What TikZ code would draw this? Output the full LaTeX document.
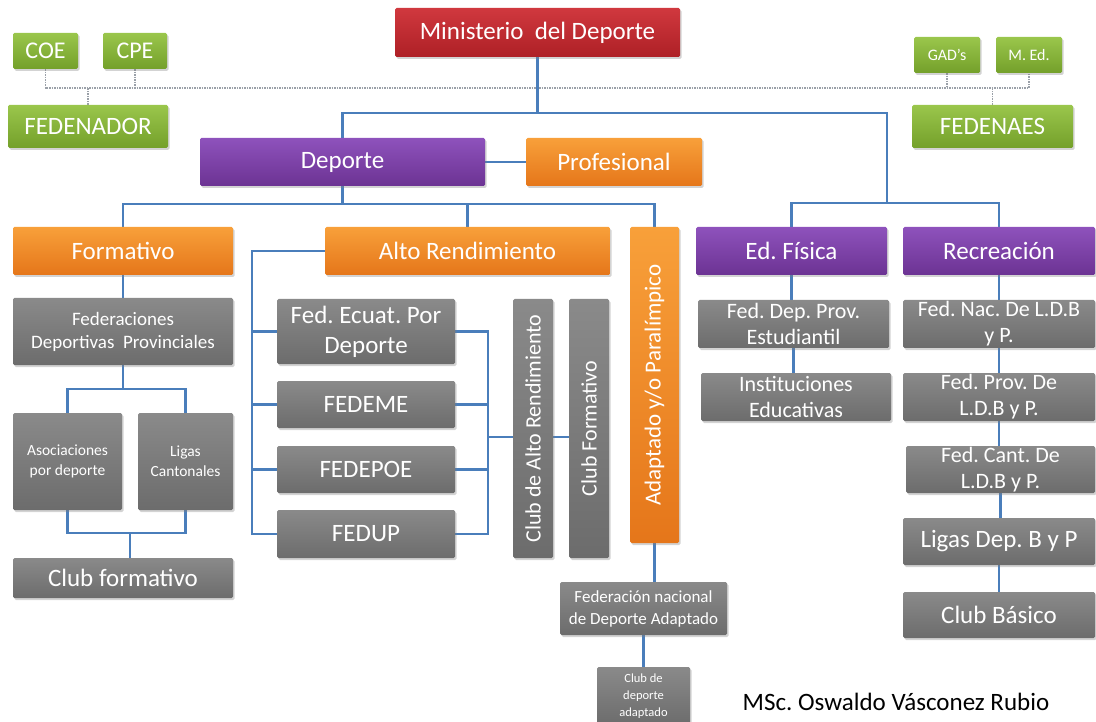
\documentclass[tikz,border=0pt]{standalone}
\usepackage{fontspec}
\setmainfont{Carlito}
\usetikzlibrary{shadows,backgrounds}
\definecolor{linkblue}{HTML}{4A7EBB}
\definecolor{dotgray}{HTML}{9AA0A8}
\definecolor{redtop}{HTML}{D0383E}
\definecolor{redbot}{HTML}{AE2026}
\definecolor{greentop}{HTML}{9AC64C}
\definecolor{greenbot}{HTML}{74A02A}
\definecolor{purpletop}{HTML}{8E52BC}
\definecolor{purplebot}{HTML}{6C3393}
\definecolor{orangetop}{HTML}{F8A03A}
\definecolor{orangebot}{HTML}{E5761A}
\definecolor{graytop}{HTML}{8A8A8A}
\definecolor{graybot}{HTML}{6C6C6C}
\frenchspacing

\begin{document}
\begin{tikzpicture}[x=1pt,y=-1pt,
    box/.style={rounded corners=1.5pt,inner sep=0pt,align=center,text=white,
                drop shadow={opacity=.35,shadow xshift=1.5pt,shadow yshift=-2pt}},
    redbox/.style={box,top color=redtop,bottom color=redbot},
    greenbox/.style={box,top color=greentop,bottom color=greenbot},
    purplebox/.style={box,top color=purpletop,bottom color=purplebot},
    orangebox/.style={box,top color=orangetop,bottom color=orangebot},
    graybox/.style={box,top color=graytop,bottom color=graybot},
    sz/.style 2 args={minimum width=#1,minimum height=#2},
    f25/.style={font=\fontsize{25}{30}\selectfont},
    f24/.style={font=\fontsize{24}{28}\selectfont},
    f23/.style={font=\fontsize{23}{27}\selectfont},
    f22/.style={font=\fontsize{22}{26}\selectfont},
    f19/.style={font=\fontsize{19}{23}\selectfont},
    f17/.style={font=\fontsize{17}{22}\selectfont},
    f16/.style={font=\fontsize{16}{19}\selectfont},
    f15/.style={font=\fontsize{15.5}{20}\selectfont},
    f12/.style={font=\fontsize{12.5}{17}\selectfont},
    link/.style={draw=linkblue,line width=2.5pt},
    dotlink/.style={draw=dotgray,line width=1.3pt,dash pattern=on 1.5pt off 1pt}]
  \useasboundingbox (0,0) rectangle (1096,722);

  % cabecera
  \node[redbox,sz={285}{49},f25] (min) at (537.5,32.5) {Ministerio\ \ del Deporte};
  \node[greenbox,sz={65}{36},f24] (coe) at (45.5,51) {COE};
  \node[greenbox,sz={64}{36},f24] (cpe) at (135,51) {CPE};
  \node[greenbox,sz={160}{43},f25] (fedenador) at (88,126.5) {FEDENADOR};
  \node[greenbox,sz={66}{36},f16] (gads) at (947,55) {GAD’s};
  \node[greenbox,sz={66}{36},f16] (med) at (1029,55) {M. Ed.};
  \node[greenbox,sz={161}{43},f25] (fedenaes) at (992.5,126.5) {FEDENAES};

  \node[purplebox,sz={285}{48},f25] (deporte) at (342.5,162) {Deporte};
  \node[orangebox,sz={176}{48},f25] (prof) at (614,162) {Profesional};

  \node[orangebox,sz={220}{48},f25] (format) at (123,251) {Formativo};
  \node[orangebox,sz={285}{48},f25] (alto) at (467.5,251) {Alto Rendimiento};
  \node[orangebox,sz={316}{49},f23,rotate=90] (adapt) at (654.5,385) {Adaptado y/o Paralímpico};
  \node[purplebox,sz={191}{48},f25] (edfis) at (791.5,251) {Ed. Física};
  \node[purplebox,sz={192}{48},f25] (recre) at (999,251) {Recreación};

  % formativo
  \node[graybox,sz={220}{67},f19] (fdp) at (123,331.5) {Federaciones\\Deportivas\ \ Provinciales};
  \node[graybox,sz={109}{97},f15] (asoc) at (67.5,461.5) {Asociaciones\\por deporte};
  \node[graybox,sz={95}{97},f15] (ligas) at (185.5,461.5) {Ligas\\Cantonales};
  \node[graybox,sz={220}{40},f25] (clubf) at (123,578) {Club formativo};

  % alto rendimiento
  \node[graybox,sz={178}{65},f25] (fecu) at (366,331.5) {Fed. Ecuat. Por\\Deporte};
  \node[graybox,sz={178}{47},f25] (fedeme) at (366,404.5) {FEDEME};
  \node[graybox,sz={178}{47},f25] (fedepoe) at (366,469.5) {FEDEPOE};
  \node[graybox,sz={178}{48},f25] (fedup) at (366,534) {FEDUP};
  \node[graybox,sz={259}{40},f22,rotate=90] (car) at (533,428.5) {Club de Alto Rendimiento};
  \node[graybox,sz={259}{40},f22,rotate=90] (cfo) at (589,428.5) {Club Formativo};
  \node[graybox,sz={167}{53},f17] (fnac) at (643.5,608.5) {Federación nacional\\de Deporte Adaptado};
  \node[graybox,sz={93}{58},f12] (cda) at (643.5,696) {Club de\\deporte\\adaptado};

  % ed. fisica y recreacion
  \node[graybox,sz={191}{48},f22] (fdpe) at (793.5,324) {Fed. Dep. Prov.\\Estudiantil};
  \node[graybox,sz={190}{48},f22] (inst) at (796,397) {Instituciones\\Educativas};
  \node[graybox,sz={192}{48},f22] (fnld) at (999,324) {Fed. Nac. De L.D.B\\y P.};
  \node[graybox,sz={192}{48},f22] (fprov) at (999,397) {Fed. Prov. De\\L.D.B y P.};
  \node[graybox,sz={189}{47},f22] (fcant) at (1000.5,469.5) {Fed. Cant. De\\L.D.B y P.};
  \node[graybox,sz={192}{47},f25] (ligasd) at (999,541.5) {Ligas Dep. B y P};
  \node[graybox,sz={192}{46},f25] (clubb) at (999,615) {Club Básico};

  \node[f25,inner sep=0pt] (firma) at (896,702) {MSc. Oswaldo Vásconez Rubio};

  \begin{scope}[on background layer]
    \coordinate (dl) at (45.5,88);
    \coordinate (dr) at (1029,88);
    \draw[dotlink] (coe.south) -- (dl) -- (dr) -- (med.south);
    \draw[dotlink] (cpe.south) -- (cpe.south |- dl);
    \draw[dotlink] (gads.south) -- (gads.south |- dl);
    \draw[dotlink] (fedenador.north) -- (fedenador.north |- dl);
    \draw[dotlink] (fedenaes.north) -- (fedenaes.north |- dl);

    \coordinate (topbus) at (537.5,113);
    \coordinate (rbus) at (887,203);
    \coordinate (dbus) at (342.5,204);
    \draw[link] (min.south) -- (topbus);
    \draw[link] (deporte.north) |- (topbus) -| (rbus);
    \draw[link] (edfis.north) |- (rbus) -| (recre.north);
    \draw[link] (deporte.east) -- (prof.west);
    \draw[link] (deporte.south) -- (dbus);
    \draw[link] (format.north) |- (dbus) -| (adapt.east);
    \draw[link] (alto.north) -- (alto.north |- dbus);

    \coordinate (fbus) at (123,389);
    \coordinate (cbus) at (130,533);
    \draw[link] (format.south) -- (fdp.north);
    \draw[link] (fdp.south) -- (fbus);
    \draw[link] (asoc.north) |- (fbus) -| (ligas.north);
    \draw[link] (asoc.south) |- (cbus) -| (ligas.south);
    \draw[link] (cbus) -- (cbus |- clubf.north);

    \coordinate (lb) at (252,534);
    \coordinate (rb) at (488,437);
    \draw[link] (alto.west) -| (lb) -- (fedup.west);
    \foreach \n in {fecu,fedeme,fedepoe}
      \draw[link] (\n.west) -- (\n.west -| lb);
    \draw[link] (fecu.east) -| (rb) |- (fedup.east);
    \foreach \n in {fedeme,fedepoe}
      \draw[link] (\n.east) -- (\n.east -| rb);
    \draw[link] (rb) -- (rb -| car.north);
    \draw[link] (car.south |- rb) -- (cfo.north |- rb);
    \draw[link] (adapt.west) -- (adapt.west |- fnac.north);
    \draw[link] (fnac.south) -- (cda.north);

    \draw[link] (edfis.south) -- (edfis.south |- fdpe.north);
    \draw[link] (fdpe.south) -- (fdpe.south |- inst.north);
    \foreach \a/\b in {recre/fnld,fnld/fprov,fprov/fcant,fcant/ligasd,ligasd/clubb}
      \draw[link] (\a.south) -- (\a.south |- \b.north);
  \end{scope}
\end{tikzpicture}
\end{document}
